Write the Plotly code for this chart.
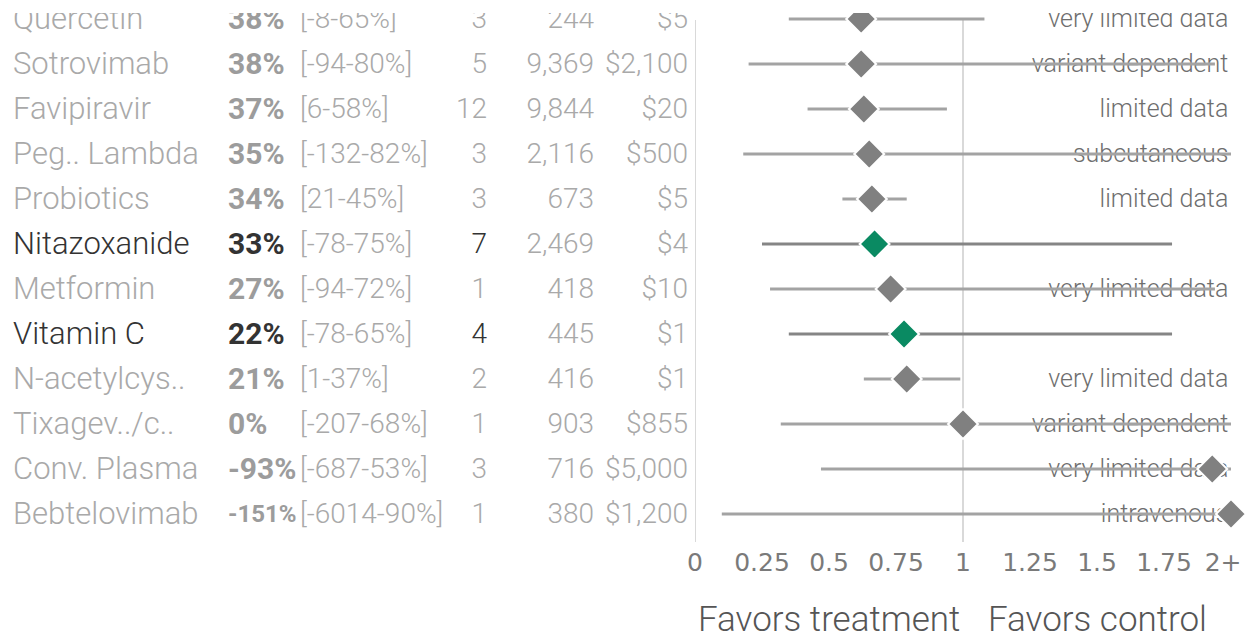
import plotly.graph_objects as go

# Treatments, top to bottom
names = ["Quercetin", "Sotrovimab", "Favipiravir", "Peg.. Lambda", "Probiotics",
         "Nitazoxanide", "Metformin", "Vitamin C", "N-acetylcys..", "Tixagev../c..",
         "Conv. Plasma", "Bebtelovimab"]
improvement = [38, 38, 37, 35, 34, 33, 27, 22, 21, 0, -93, -151]   # % improvement
ci_low = [-8, -94, 6, -132, 21, -78, -94, -78, 1, -207, -687, -6014]  # % improvement, lower
ci_high = [65, 80, 58, 82, 45, 75, 72, 65, 37, 68, 53, 90]            # % improvement, upper
studies = [3, 5, 12, 3, 3, 7, 1, 4, 2, 1, 3, 1]
patients = [244, 9369, 9844, 2116, 673, 2469, 418, 445, 416, 903, 716, 380]
cost = ["$5", "$2,100", "$20", "$500", "$5", "$4", "$10", "$1", "$1", "$855", "$5,000", "$1,200"]
notes = ["very limited data", "variant dependent", "limited data", "subcutaneous", "limited data",
         "", "very limited data", "", "very limited data", "variant dependent",
         "very limited data", "intravenous"]
highlight = [False, False, False, False, False, True, False, True, False, False, False, False]

tick_vals = [0, 0.25, 0.5, 0.75, 1, 1.25, 1.5, 1.75, 2]
tick_text = ["0", "0.25", "0.5", "0.75", "1", "1.25", "1.5", "1.75", "2+\u00a0\u00a0"]
RR_CAP = 2.0

W, H = 1246, 635
n = len(names)
ypos = [n - 1 - i for i in range(n)]  # bottom row = 0


def rr(pct):
    return min(1 - pct / 100.0, RR_CAP)


LIGHT = "#a9a9a9"
DARK = "#333333"
FONT = "Roboto Light, Roboto"

# pixel layout
x_left, x_one = 695, 963
unit = x_one - x_left
plot_top = 13
plot_bottom = 542
row_gap = 45
bottom_row_px = 514
line_top = 20
text_dy = -2.0 / row_gap  # nudge text baselines down a touch

ytext = [y + text_dy for y in ypos]

fig = go.Figure()

# notes sit underneath the interval lines
fig.add_trace(go.Scatter(
    x=[1.99] * n, y=ytext, mode="text", text=notes, textposition="middle left",
    textfont=dict(family=FONT, size=25, color="#6e6e6e", weight=300),
    cliponaxis=True, hoverinfo="skip", showlegend=False))

# confidence interval segments
for flag, col in [(False, "#a3a3a3"), (True, "#858585")]:
    xs, ys = [], []
    for i in range(n):
        if highlight[i] != flag:
            continue
        xs += [rr(ci_high[i]), rr(ci_low[i]), None]
        ys += [ypos[i], ypos[i], None]
    fig.add_trace(go.Scatter(x=xs, y=ys, mode="lines", line=dict(color=col, width=3),
                             hoverinfo="skip", showlegend=False))

# point estimates
for flag, col in [(False, "#808080"), (True, "#0a8a62")]:
    idx = [i for i in range(n) if highlight[i] == flag]
    fig.add_trace(go.Scatter(
        x=[rr(improvement[i]) for i in idx], y=[ypos[i] for i in idx], mode="markers",
        marker=dict(symbol="diamond", size=23, color=col, line=dict(color="white", width=2)),
        showlegend=False, hoverinfo="skip"))

# table columns, drawn on a full-width pixel axis so they clip with the rows
columns = [
    # (x pixel, textposition, texts, colors, sizes, weight)
    (13, "middle right", names, [DARK if h else LIGHT for h in highlight], [31] * n, 300),
    (228, "middle right", [f"{v}%" for v in improvement],
     [DARK if h else "#9c9c9c" for h in highlight],
     [24 if len(f"{v}%") > 4 else 30 for v in improvement], 700),
    (300, "middle right", [f"[{a}-{b}%]" for a, b in zip(ci_low, ci_high)], [LIGHT] * n, [28] * n, 300),
    (487, "middle left", [str(s) for s in studies], [DARK if h else LIGHT for h in highlight], [28] * n, 300),
    (594, "middle left", [f"{p:,}" for p in patients], [LIGHT] * n, [28] * n, 300),
    (688, "middle left", cost, [LIGHT] * n, [28] * n, 300),
]
for xpx, pos, texts, cols, sizes, wt in columns:
    fig.add_trace(go.Scatter(
        x=[xpx] * n, y=ytext, xaxis="x2", yaxis="y", mode="text", text=texts,
        textposition=pos,
        textfont=dict(family=FONT if wt == 300 else "Roboto", size=sizes, color=cols, weight=wt),
        cliponaxis=True, hoverinfo="skip", showlegend=False))

ann = [
    dict(x=0.5, y=1 - 619 / H, xref="x", yref="paper", text="Favors treatment", showarrow=False,
         font=dict(family=FONT, size=35, weight=300, color="#555555"),
         xanchor="center", yanchor="middle"),
    dict(x=1.5, y=1 - 619 / H, xref="x", yref="paper", text="Favors control", showarrow=False,
         font=dict(family=FONT, size=35, weight=300, color="#555555"),
         xanchor="center", yanchor="middle"),
]

vline = dict(color="#d9d9d9", width=2)
fig.update_layout(
    template="none",
    width=W, height=H, margin=dict(l=0, r=0, t=0, b=0, autoexpand=False),
    paper_bgcolor="white", plot_bgcolor="rgba(0,0,0,0)",
    annotations=ann,
    shapes=[
        dict(type="line", xref="x", yref="paper", x0=0, x1=0,
             y0=1 - plot_bottom / H, y1=1 - line_top / H, line=vline, layer="below"),
        dict(type="line", xref="x", yref="paper", x0=1, x1=1,
             y0=1 - plot_bottom / H, y1=1 - line_top / H, line=vline, layer="below"),
    ],
    xaxis=dict(domain=[x_left / W, 1], range=[0, (W - x_left) / unit], automargin=False,
               tickvals=tick_vals, ticktext=tick_text, showgrid=False, zeroline=False,
               showline=False, ticks="", ticklabeloverflow="allow", ticklabelstandoff=3,
               tickfont=dict(family="DejaVu Sans", size=25, color="#7a7a7a"),
               fixedrange=True),
    xaxis2=dict(domain=[0, 1], range=[0, W], anchor="y", visible=False, fixedrange=True,
                automargin=False),
    yaxis=dict(domain=[1 - plot_bottom / H, 1 - plot_top / H],
               range=[(bottom_row_px - plot_bottom) / row_gap, (bottom_row_px - plot_top) / row_gap],
               showgrid=False, zeroline=False, showticklabels=False, ticks="",
               showline=False, fixedrange=True, automargin=False),
)

fig.write_html("out.html")
